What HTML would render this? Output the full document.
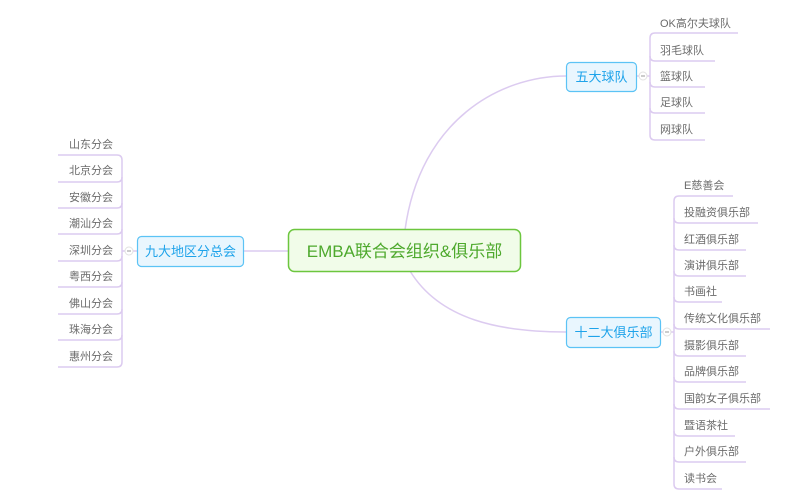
<!DOCTYPE html>
<html><head><meta charset="utf-8"><style>
html,body{margin:0;padding:0;background:#fff;}
svg{display:block;}
text{font-family:"Liberation Sans","Noto Sans CJK SC",sans-serif;}
.l{font-size:11px;fill:#6b6b6b;}
.ln{stroke:#dccbf0;stroke-width:1.5;fill:none;}
</style></head><body>
<svg width="799" height="498" viewBox="0 0 799 498" xmlns="http://www.w3.org/2000/svg">
<!-- main connectors -->
<path class="ln" d="M405,230 C420,120 500,76 566,76"/>
<path class="ln" d="M410,271 C440,320 500,332 566,332"/>
<path class="ln" d="M243,251 L288,251"/>
<path class="ln" d="M636,76 L650,76"/>
<path class="ln" d="M660,332 L674,332"/>
<path class="ln" d="M122,251 L137,251"/>

<!-- top right group -->
<path class="ln" d="M650,38 L650,135"/>
<path class="ln" d="M650,38 Q650,33 655,33 L738,33"/>
<path class="ln" d="M650,56 Q650,61 655,61 L715,61"/>
<path class="ln" d="M650,82 Q650,87 655,87 L705,87"/>
<path class="ln" d="M650,108 Q650,113 655,113 L705,113"/>
<path class="ln" d="M650,135 Q650,140 655,140 L705,140"/>
<text class="l" x="660" y="27">OK高尔夫球队</text>
<text class="l" x="660" y="54">羽毛球队</text>
<text class="l" x="660" y="80">篮球队</text>
<text class="l" x="660" y="106">足球队</text>
<text class="l" x="660" y="133">网球队</text>

<!-- bottom right group -->
<path class="ln" d="M674,201 L674,484"/>
<path class="ln" d="M674,201 Q674,196 679,196 L733,196"/>
<path class="ln" d="M674,218 Q674,223 679,223 L758,223"/>
<path class="ln" d="M674,245 Q674,250 679,250 L746,250"/>
<path class="ln" d="M674,271 Q674,276 679,276 L746,276"/>
<path class="ln" d="M674,297 Q674,302 679,302 L722,302"/>
<path class="ln" d="M674,324 Q674,329 679,329 L770,329"/>
<path class="ln" d="M674,351 Q674,356 679,356 L746,356"/>
<path class="ln" d="M674,377 Q674,382 679,382 L746,382"/>
<path class="ln" d="M674,404 Q674,409 679,409 L770,409"/>
<path class="ln" d="M674,431 Q674,436 679,436 L735,436"/>
<path class="ln" d="M674,457 Q674,462 679,462 L746,462"/>
<path class="ln" d="M674,484 Q674,489 679,489 L722,489"/>
<text class="l" x="684" y="189">E慈善会</text>
<text class="l" x="684" y="216">投融资俱乐部</text>
<text class="l" x="684" y="243">红酒俱乐部</text>
<text class="l" x="684" y="269">演讲俱乐部</text>
<text class="l" x="684" y="295">书画社</text>
<text class="l" x="684" y="322">传统文化俱乐部</text>
<text class="l" x="684" y="349">摄影俱乐部</text>
<text class="l" x="684" y="375">品牌俱乐部</text>
<text class="l" x="684" y="402">国韵女子俱乐部</text>
<text class="l" x="684" y="429">暨语茶社</text>
<text class="l" x="684" y="455">户外俱乐部</text>
<text class="l" x="684" y="482">读书会</text>

<!-- left group -->
<path class="ln" d="M122,160 L122,362"/>
<path class="ln" d="M122,160 Q122,155 117,155 L58,155"/>
<path class="ln" d="M122,177 Q122,182 117,182 L58,182"/>
<path class="ln" d="M122,203 Q122,208 117,208 L58,208"/>
<path class="ln" d="M122,229 Q122,234 117,234 L58,234"/>
<path class="ln" d="M122,256 Q122,261 117,261 L58,261"/>
<path class="ln" d="M122,282 Q122,287 117,287 L58,287"/>
<path class="ln" d="M122,309 Q122,314 117,314 L58,314"/>
<path class="ln" d="M122,335 Q122,340 117,340 L58,340"/>
<path class="ln" d="M122,362 Q122,367 117,367 L58,367"/>
<g text-anchor="end">
<text class="l" x="113" y="148">山东分会</text>
<text class="l" x="113" y="174">北京分会</text>
<text class="l" x="113" y="201">安徽分会</text>
<text class="l" x="113" y="227">潮汕分会</text>
<text class="l" x="113" y="254">深圳分会</text>
<text class="l" x="113" y="280">粤西分会</text>
<text class="l" x="113" y="307">佛山分会</text>
<text class="l" x="113" y="333">珠海分会</text>
<text class="l" x="113" y="360">惠州分会</text>
</g>

<!-- collapse circles -->
<g fill="#fff" stroke="#e2e2e2" stroke-width="1">
<circle cx="643" cy="76" r="4"/><circle cx="667" cy="332" r="4"/><circle cx="129" cy="251" r="4"/>
</g>
<g stroke="#999" stroke-width="1">
<line x1="641" y1="76" x2="645" y2="76"/><line x1="665" y1="332" x2="669" y2="332"/><line x1="127" y1="251" x2="131" y2="251"/>
</g>

<!-- central node -->
<rect x="288.5" y="229.5" width="232" height="42" rx="6" fill="#f1fce9" stroke="#6cc63e" stroke-width="1.5"/>
<text x="404.5" y="257" text-anchor="middle" font-size="17" fill="#4ea92d">EMBA联合会组织&amp;俱乐部</text>

<!-- sub nodes -->
<g fill="#e9f6fe" stroke="#5cc3f5" stroke-width="1.2">
<rect x="566.5" y="62.5" width="70" height="29" rx="4"/>
<rect x="566.5" y="317.5" width="94" height="30" rx="4"/>
<rect x="137.5" y="236.5" width="106" height="30" rx="4"/>
</g>
<g font-size="13" fill="#1ea3ea" text-anchor="middle">
<text x="601.5" y="81.5">五大球队</text>
<text x="613.5" y="337">十二大俱乐部</text>
<text x="190.5" y="256">九大地区分总会</text>
</g>
</svg>
</body></html>
